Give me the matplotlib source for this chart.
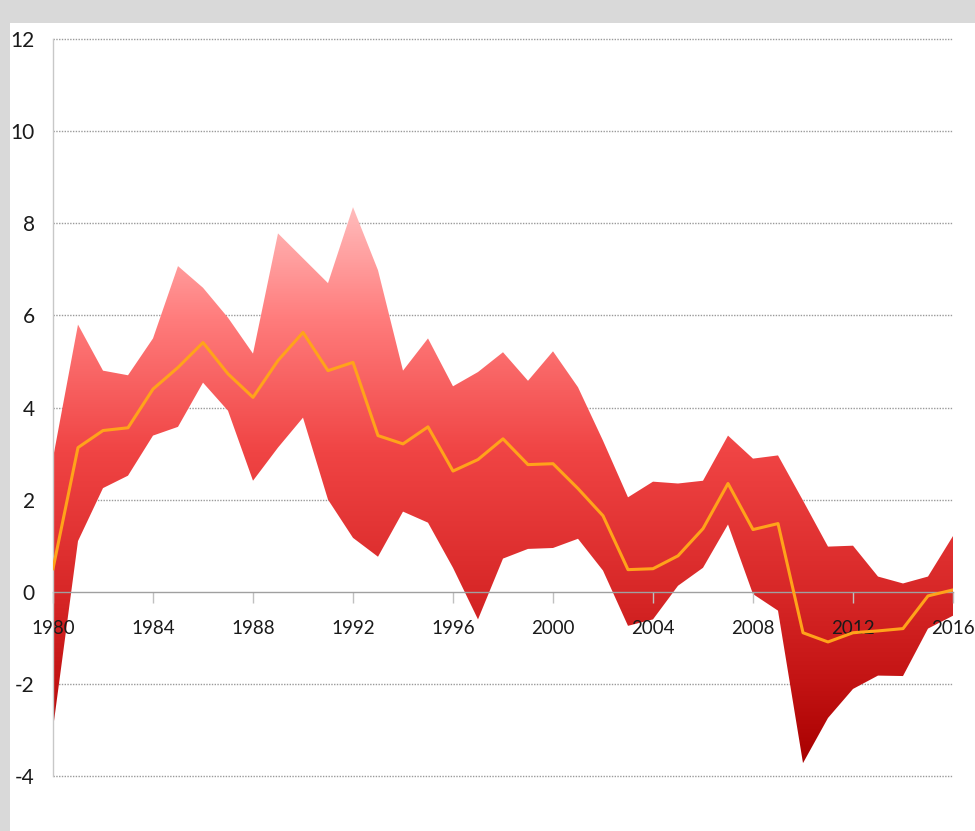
import numpy as np
import matplotlib.pyplot as plt
from matplotlib.colors import LinearSegmentedColormap
from matplotlib.patches import Rectangle

plt.rcParams['font.family'] = ['Lato', 'DejaVu Sans']
plt.rcParams['axes.unicode_minus'] = False

years = np.arange(1980, 2017)
upper = [2.9, 5.8, 4.8, 4.7, 5.5, 7.07, 6.6, 5.95, 5.17, 7.78, 7.24, 6.7, 8.35,
         6.98, 4.8, 5.5, 4.46, 4.77, 5.2, 4.58, 5.22, 4.44, 3.28, 2.05, 2.39,
         2.35, 2.41, 3.39, 2.89, 2.96, 1.98, 0.98, 1.0, 0.33, 0.18, 0.33, 1.21]
middle = [0.5, 3.13, 3.5, 3.56, 4.4, 4.87, 5.41, 4.73, 4.22, 5.02, 5.63, 4.8,
          4.98, 3.39, 3.21, 3.58, 2.62, 2.87, 3.32, 2.76, 2.78, 2.24, 1.65,
          0.48, 0.5, 0.78, 1.37, 2.35, 1.35, 1.48, -0.89, -1.09, -0.89, -0.85,
          -0.8, -0.09, 0.04]
lower = [-2.97, 1.1, 2.25, 2.52, 3.39, 3.58, 4.54, 3.93, 2.41, 3.13, 3.78, 2.0,
         1.17, 0.76, 1.74, 1.5, 0.52, -0.6, 0.72, 0.93, 0.95, 1.15, 0.46, -0.74,
         -0.6, 0.13, 0.52, 1.46, -0.05, -0.41, -3.72, -2.74, -2.11, -1.82,
         -1.83, -0.8, -0.52]
x_ticks = list(range(1980, 2017, 4))
y_ticks = list(range(-4, 13, 2))

fig = plt.figure(figsize=(9.75, 8.31), dpi=100, facecolor='#d9d9d9')
fig.patches.append(Rectangle((10 / 975, 0), 1, 1 - 23 / 831, transform=fig.transFigure,
                             facecolor='white', edgecolor='none', zorder=-5))
ax = fig.add_axes([53 / 975, 55 / 831, 900 / 975, 737 / 831])
ax.set_facecolor('none')
ax.set_zorder(2)

# gradient fill clipped to the band
band = ax.fill_between(years, lower, upper, facecolor='none', edgecolor='none')
lo, hi = min(lower), max(upper)
cmap = LinearSegmentedColormap.from_list('band', [
    (0.0, '#a80000'), (0.15, '#c41414'), (0.31, '#d82828'),
    (0.56, '#f04444'), (0.80, '#ff7c7c'), (1.0, '#ffbcbc')])
grad = np.linspace(0, 1, 256).reshape(-1, 1)
img = ax.imshow(grad, cmap=cmap, origin='lower', aspect='auto',
                extent=[years[0], years[-1], lo, hi], zorder=1)
img.set_clip_path(band.get_paths()[0], transform=ax.transData)

ax.plot(years, middle, color='#ffa31a', lw=2.2, zorder=3)

ax.set_xlim(1980, 2016)
ax.set_ylim(-4, 12)
ax.set_yticks(y_ticks)
ax.set_xticks(x_ticks)
for y in y_ticks:
    if y != 0:
        ax.axhline(y, color='#9a9a9a', lw=1, ls=(0, (1, 1)), zorder=0.5, clip_on=False)

for s in ['top', 'right']:
    ax.spines[s].set_visible(False)
ax.spines['left'].set_color('#c8c8c8')
ax.spines['left'].set_linewidth(1)
ax.spines['bottom'].set_position(('data', 0))
ax.spines['bottom'].set_color('#a0a0a0')
ax.spines['bottom'].set_linewidth(1)
ax.spines['bottom'].set_zorder(2)

ax.tick_params(axis='y', length=0, pad=13, labelsize=15, labelcolor='#1a1a1a')
ax.tick_params(axis='x', length=8, width=1, color='#c0c0c0', direction='out',
               pad=12, labelsize=13.5, labelcolor='#1a1a1a')
for lab in ax.get_xticklabels():
    lab.set_zorder(4)

fig.savefig('out.png', dpi=100, facecolor=fig.get_facecolor())
